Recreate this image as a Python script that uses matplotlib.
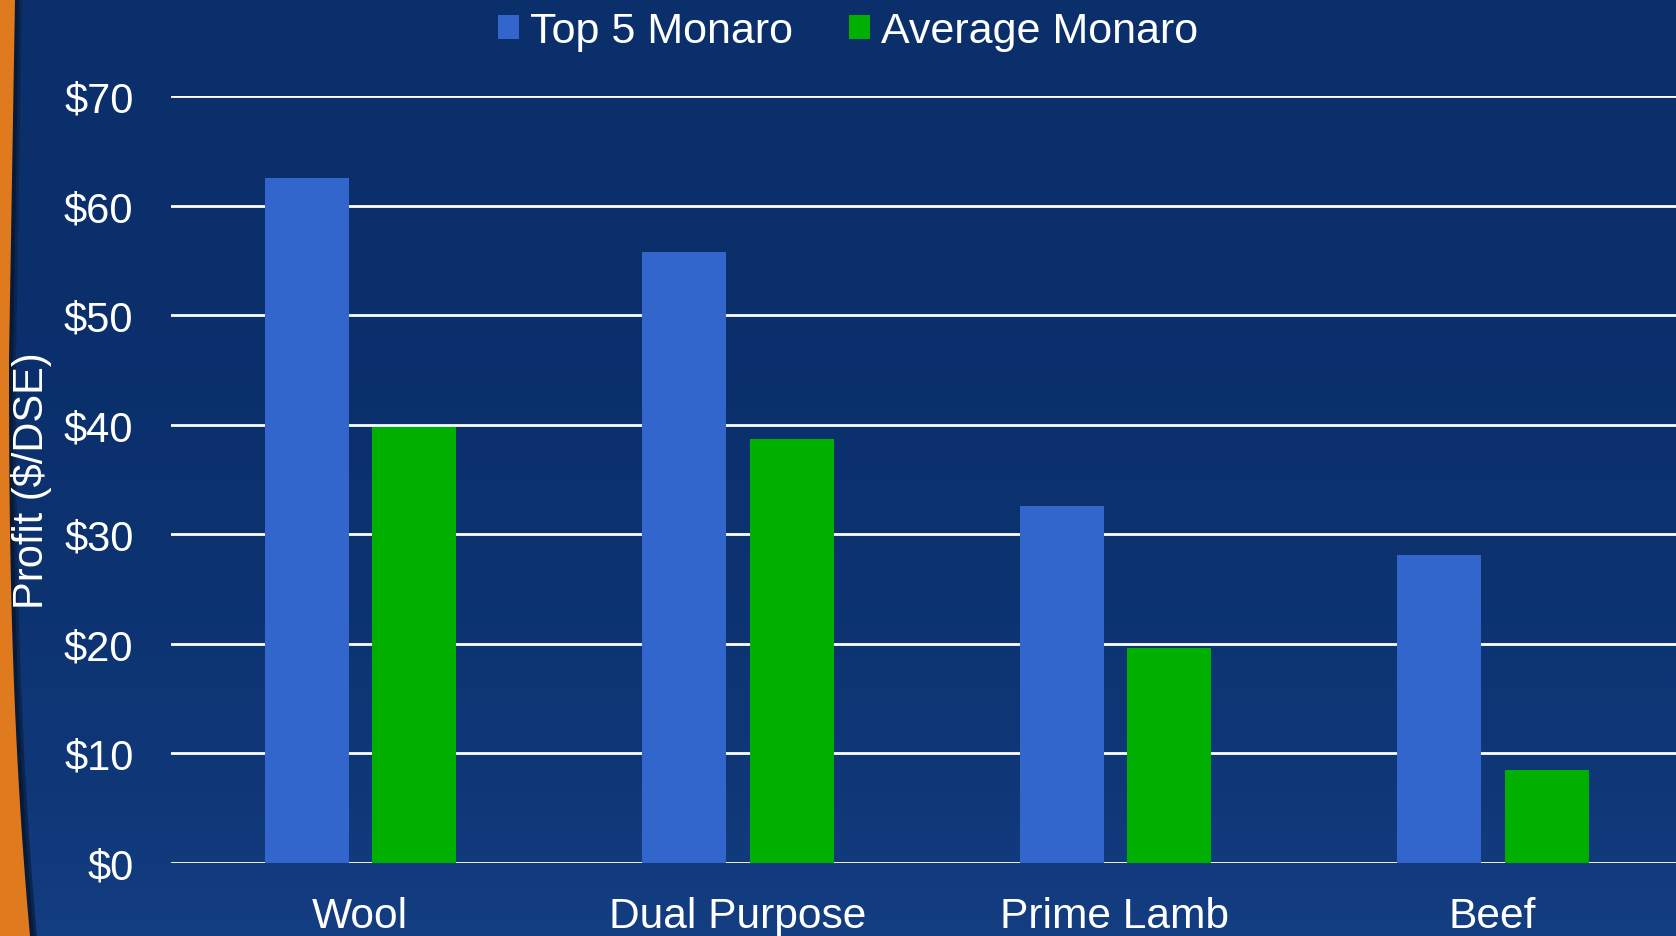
import numpy as np
import matplotlib
matplotlib.use("Agg")
import matplotlib.pyplot as plt
from matplotlib.patches import Patch, Polygon

plt.rcParams['font.family'] = ['Liberation Sans', 'DejaVu Sans']

# chart data
categories = ["Wool", "Dual Purpose", "Prime Lamb", "Beef"]
top5_monaro = [62.5, 55.8, 32.6, 28.1]
average_monaro = [39.8, 38.7, 19.6, 8.5]
series_names = ["Top 5 Monaro", "Average Monaro"]
y_ticks = [0, 10, 20, 30, 40, 50, 60, 70]

BLUE = "#3366cc"
GREEN = "#00b000"
NAVY = "#0a2f6b"

W, H = 1676, 937
fig = plt.figure(figsize=(W / 100, H / 100), dpi=100, facecolor=NAVY)

# background: navy gradient + orange strip on the left
bg = fig.add_axes([0, 0, 1, 1])
bg.set_xlim(0, W)
bg.set_ylim(H, 0)
bg.axis("off")
grad = np.linspace(0, 1, 256).reshape(-1, 1) ** 3
top_rgb = np.array([10, 47, 107]) / 255
bot_rgb = np.array([20, 62, 130]) / 255
img = top_rgb + (bot_rgb - top_rgb) * grad[..., None]
bg.imshow(img, extent=[0, W, H, 0], aspect="auto", zorder=0)

ys = np.linspace(0, H, 80)
edge = 9 + 6 * ((360 - ys) / 360).clip(0) + 21 * ((ys - 360) / 577).clip(0) ** 2.5
for k, (off, col) in enumerate([(7, "#0a2550"), (4, "#061a3a"), (0, "#e07a1e")]):
    poly = Polygon(np.vstack([np.column_stack([edge + off, ys]), [[0, H], [0, 0]]]),
                   closed=True, facecolor=col, edgecolor="none", zorder=1 + k)
    bg.add_patch(poly)

# main chart
ax = fig.add_axes([171 / W, 1 - 864 / H, 1510 / W, (864 - 97) / H])
ax.set_facecolor("none")
x = np.arange(len(categories))
bw = 0.222
ax.bar(x - 0.14, top5_monaro, bw, color=BLUE, zorder=3)
ax.bar(x + 0.144, average_monaro, bw, color=GREEN, zorder=3)

ax.set_xlim(-0.5, len(categories) - 0.5)
ax.set_ylim(0, 70)
ax.set_yticks(y_ticks)
ax.set_yticklabels([f"${v}" for v in y_ticks])
ax.set_xticks(x)
ax.set_xticklabels(categories)
ax.tick_params(axis="both", length=0, colors="white")
ax.tick_params(axis="y", pad=27, labelsize=30)
ax.tick_params(axis="x", pad=24, labelsize=30.6)
ax.grid(axis="y", color="white", linewidth=2, zorder=1)
ax.set_axisbelow(True)
for s in ax.spines.values():
    s.set_visible(False)

fig.text(32 / W, 1 - 481 / H, "Profit ($/DSE)", rotation=90, color="white",
         fontsize=30, ha="center", va="center")

handles = [Patch(facecolor=BLUE), Patch(facecolor=GREEN)]
fig.legend(handles, series_names, loc="center", bbox_to_anchor=(848 / W, 1 - 32 / H),
           ncol=2, frameon=False, fontsize=31, labelcolor="white",
           handlelength=0.49, handleheight=0.49, handletextpad=0.25, columnspacing=1.3)

fig.savefig("out.png", dpi=100, facecolor=fig.get_facecolor())
